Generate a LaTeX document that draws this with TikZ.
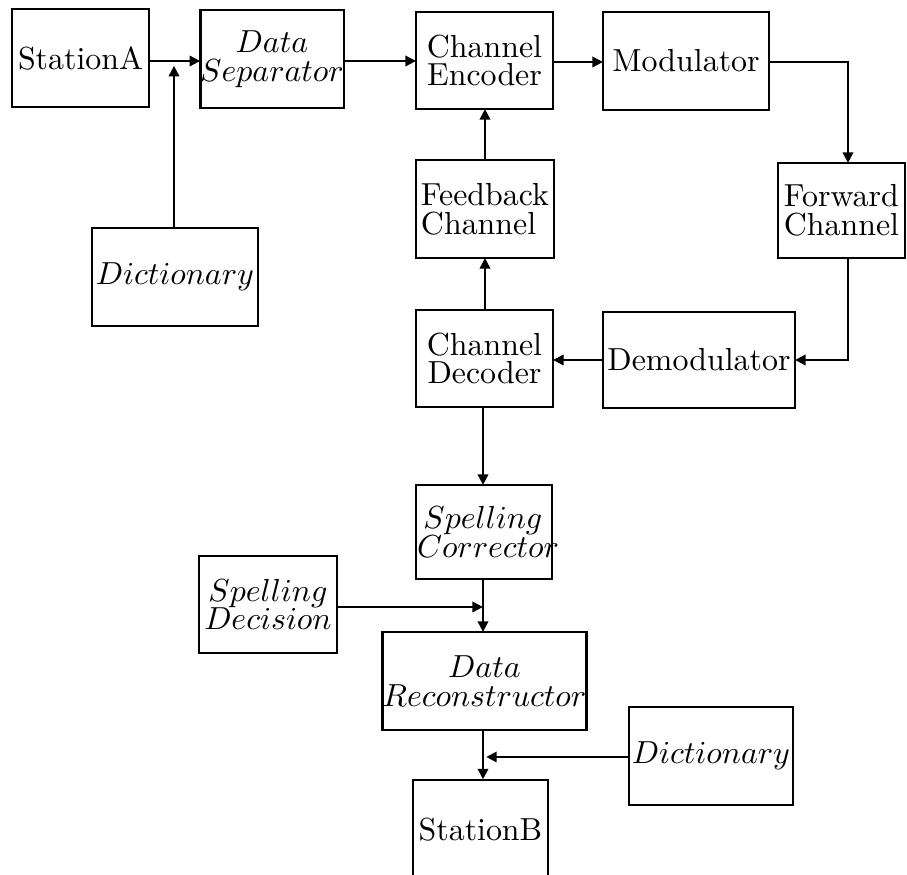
\documentclass[tikz,border=0pt]{standalone}
\usetikzlibrary{arrows.meta}
\tikzset{
  box/.style={draw, line width=0.8pt, inner sep=0pt, outer sep=0pt, font=\normalsize},
  conn/.style={line width=0.8pt},
  arr/.style={line width=0.8pt, -{Triangle[length=3.3pt,width=3.2pt]}},
}
\newcommand\blk[7][align=center]{%
  \node[box,#1, minimum width={(#5-#3)*0.3135pt}, minimum height={(#6-#4)*0.3135pt}]
    (#2) at ({(#3+#5)/2},{(#4+#6)/2}) {#7};}
\begin{document}
\begin{tikzpicture}[x=0.3135pt,y=-0.3135pt]
\useasboundingbox (0,0) rectangle (907,875);
\blk{sa}{12}{9}{149}{107}{StationA}
\blk{ds}{201}{10}{343}{108}{$Data$\\[-3pt]$Separator$}
\blk{ce}{416}{12}{553}{109}{Channel\\[-3pt]Encoder}
\blk{mod}{603}{12}{769}{110}{Modulator}
\blk[align=left]{fb}{416}{160}{554}{258}{Feedback\\[-3pt]Channel}
\blk[align=left]{fw}{778}{163}{905}{258}{Forward\\[-3pt]Channel}
\blk{dic}{92}{228}{258}{326}{$Dictionary$}
\blk{cd}{416}{310}{553}{407}{Channel\\[-3pt]Decoder}
\blk{dem}{603}{312}{795}{408}{Demodulator}
\blk[align=left, text width={134*0.3135pt}]{sc}{416}{485}{552}{579}{\hspace*{2pt}$Spelling$\\[-3pt]$Corrector$}
\blk{sd}{199}{556}{337}{653}{$Spelling$\\[-3pt]$Decision$}
\blk{dr}{384}{632}{585}{730}{$Data$\\[-3pt]$Reconstructor$}
\blk{dic2}{629}{707}{793}{805}{$Dictionary$}
\node[inner sep=0pt, minimum width={135*0.3135pt}, minimum height={100*0.3135pt}] (sb) at (480.5,830) {StationB};
\draw[conn] (413,875) -- (413,780) -- (548,780) -- (548,875);
% junction coordinates
\coordinate (j1) at (174,61);
\coordinate (j2) at (483,607);
\coordinate (j3) at (483,757);
\coordinate (m1) at (848,62);
\coordinate (m2) at (848,360);
% connectors
\draw[arr] (sa.east |- 0,61) -- (ds.west |- 0,61);
\draw[arr] (dic.north -| j1) -- ([yshift=-1.5pt]j1);
\draw[arr] (ds.east |- 0,61) -- (ce.west |- 0,61);
\draw[arr] (ce.east |- 0,62) -- (mod.west |- 0,62);
\draw[arr] (mod.east |- m1) -- (m1) -- (fw.north -| m1);
\draw[arr] (fw.south -| m2) -- (m2) -- (dem.east |- m2);
\draw[arr] (dem.west |- 0,360) -- (cd.east |- 0,360);
\draw[arr] (cd.north -| 485,0) -- (fb.south -| 485,0);
\draw[arr] (fb.north -| 485,0) -- (ce.south -| 485,0);
\draw[arr] (cd.south -| 483,0) -- (sc.north -| 483,0);
\draw[arr] (sc.south -| 483,0) -- (dr.north -| 483,0);
\draw[arr] (sd.east |- j2) -- (j2);
\draw[arr] (dr.south -| 483,0) -- (sb.north -| 483,0);
\draw[arr] (dic2.west |- j3) -- ([xshift=1pt]j3);
\end{tikzpicture}
\end{document}
